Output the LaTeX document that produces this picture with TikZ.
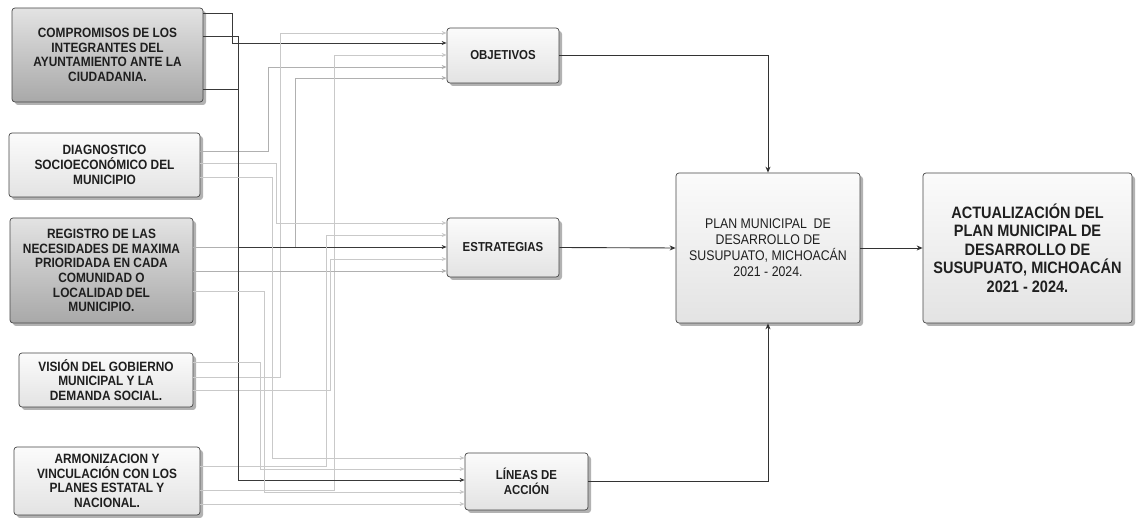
\documentclass[tikz,border=0pt]{standalone}
\usepackage{fontspec}
\setmainfont{Liberation Sans}
\newfontfamily\condfont{Liberation Sans}[FakeStretch=0.88]
\usetikzlibrary{arrows.meta,shadows}
\begin{document}
\begin{tikzpicture}[x=1pt,y=-1pt,
  box/.style={draw=gray!55!black, line width=0.7pt, rounded corners=3pt, align=center, inner sep=2pt, text=black!88,
    drop shadow={shadow xshift=3pt,shadow yshift=-3pt,opacity=0.3,fill=black}},
  darkbox/.style={box, top color=gray!22, bottom color=gray!68},
  lightbox/.style={box, top color=gray!3, bottom color=gray!22},
  srcfont/.style={font=\condfont\bfseries\fontsize{13.5}{14.7}\selectfont},
  midfont/.style={font=\condfont\bfseries\fontsize{13}{15}\selectfont},
  planfont/.style={font=\condfont\fontsize{14}{16}\selectfont},
  actfont/.style={font=\condfont\bfseries\fontsize{16.5}{18.5}\selectfont},
  tip/.style={-{Stealth[length=5pt,width=4pt]}},
  cdk/.style={tip, draw=gray!45!black, line width=0.9pt},
  cmd/.style={tip, draw=gray!62, line width=0.8pt},
  clt/.style={tip, draw=gray!42, line width=0.8pt},
  main/.style={-{Stealth[length=6pt,width=5pt]}, draw=black!80, line width=0.9pt}
]
\useasboundingbox[fill=white] (0,0) rectangle (1136,518);

% source boxes
\node[darkbox, srcfont, minimum width=191pt, minimum height=94pt] (C) at (107.5,55)
  {COMPROMISOS DE LOS\\INTEGRANTES DEL\\AYUNTAMIENTO ANTE LA\\CIUDADANIA.};
\node[lightbox, srcfont, minimum width=191pt, minimum height=64pt] (D) at (104.5,165)
  {DIAGNOSTICO\\SOCIOECONÓMICO DEL\\MUNICIPIO};
\node[darkbox, srcfont, minimum width=183pt, minimum height=105pt] (R) at (101.5,270.5)
  {REGISTRO DE LAS\\NECESIDADES DE MAXIMA\\PRIORIDADA EN CADA\\COMUNIDAD O\\LOCALIDAD DEL\\MUNICIPIO.};
\node[lightbox, srcfont, minimum width=174pt, minimum height=54pt] (V) at (106,380)
  {VISIÓN DEL GOBIERNO\\MUNICIPAL Y LA\\DEMANDA SOCIAL.};
\node[lightbox, srcfont, minimum width=186pt, minimum height=68pt] (A) at (107,481)
  {ARMONIZACION Y\\VINCULACIÓN CON LOS\\PLANES ESTATAL Y\\NACIONAL.};

% middle boxes
\node[lightbox, midfont, minimum width=112pt, minimum height=55pt] (OBJ) at (503,55.5) {OBJETIVOS};
\node[lightbox, midfont, minimum width=112pt, minimum height=59pt] (EST) at (503,247.5) {ESTRATEGIAS};
\node[lightbox, midfont, minimum width=123pt, minimum height=57pt] (LIN) at (526.5,481.5) {LÍNEAS DE\\ACCIÓN};

% right boxes
\node[lightbox, planfont, minimum width=184pt, minimum height=150pt] (PLAN) at (768,248)
  {PLAN MUNICIPAL\ \ DE\\DESARROLLO DE\\SUSUPUATO, MICHOACÁN\\2021 - 2024.};
\node[lightbox, actfont, minimum width=209pt, minimum height=150pt] (ACT) at (1027.5,248)
  {ACTUALIZACIÓN DEL\\PLAN MUNICIPAL DE\\DESARROLLO DE\\SUSUPUATO, MICHOACÁN\\2021 - 2024.};

% connectors into OBJETIVOS
\draw[cdk] (C.east |- 0,13) -| (232,43) -- (OBJ.west |- 0,43);
\draw[cmd] (D.east |- 0,151) -| (268,67) -- (OBJ.west |- 0,67);
\draw[cmd] (R.east |- 0,247) -| (295,78) -- (OBJ.west |- 0,78);
\draw[clt] (V.east |- 0,377) -| (280,33) -- (OBJ.west |- 0,33);
\draw[clt] (A.east |- 0,490) -| (334,55) -- (OBJ.west |- 0,55);

% connectors into ESTRATEGIAS
\draw[cdk] (C.east |- 0,36) -| (238,247) -- (EST.west |- 0,247);
\draw[clt] (D.east |- 0,163) -| (276,223) -- (EST.west |- 0,223);
\draw[cmd] (R.east |- 0,271) -- (EST.west |- 0,271);
\draw[clt] (V.east |- 0,390) -| (330,259) -- (EST.west |- 0,259);
\draw[clt] (A.east |- 0,466) -| (326,235) -- (EST.west |- 0,235);

% connectors into LINEAS DE ACCION
\draw[cdk] (C.east |- 0,89) -| (238,480) -- (LIN.west |- 0,480);
\draw[clt] (D.east |- 0,177) -| (272,458) -- (LIN.west |- 0,458);
\draw[clt] (R.east |- 0,291) -| (264,492) -- (LIN.west |- 0,492);
\draw[clt] (V.east |- 0,362) -| (260,469) -- (LIN.west |- 0,469);
\draw[clt] (A.east |- 0,504) -- (LIN.west |- 0,504);

% main flow
\draw[main] (OBJ.east) -| (PLAN.north);
\draw[main] (EST.east) -- (PLAN.west);
\draw[main] (LIN.east) -| (PLAN.south);
\draw[main] (PLAN.east) -- (ACT.west);
\end{tikzpicture}
\end{document}
